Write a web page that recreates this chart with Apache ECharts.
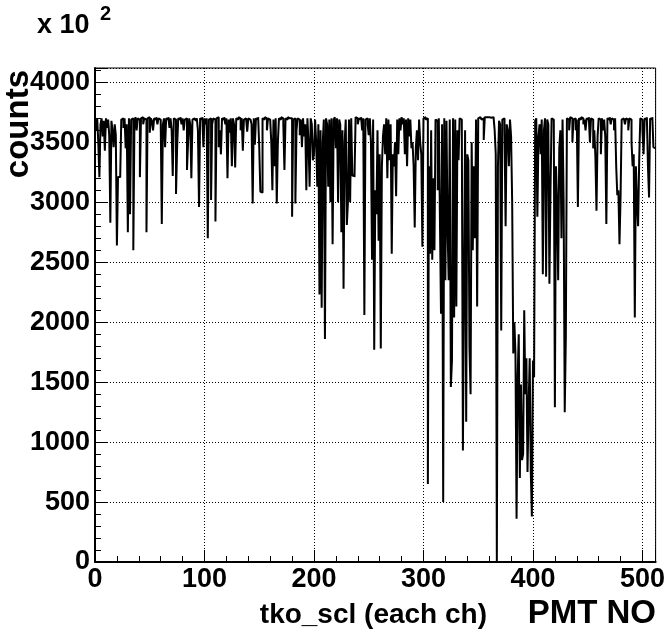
<!DOCTYPE html>
<html>
<head>
<meta charset="utf-8">
<script src="https://cdn.jsdelivr.net/npm/echarts@6/dist/echarts.min.js"></script>
<style>
  html, body { margin: 0; padding: 0; background: #fff; }
  #chart { width: 668px; height: 633px; }
</style>
</head>
<body>
<div id="chart"></div>
<script>
// bin contents of tko_scl, one value per PMT channel (0..511), in units of 10^2
const counts = [
  3650, 3600, 3700, 3500, 3210, 3650, 3700, 3550, 3680, 3430,
  3700, 3620, 3690, 3560, 2830, 3680, 3600, 3460, 3650, 3560,
  2640, 3210, 3210, 3200, 3690, 3700, 3620, 3700, 3450, 3650,
  2750, 3700, 2900, 3690, 3700, 2600, 3650, 3710, 3600, 3700,
  3690, 3210, 3700, 3710, 3650, 3700, 3690, 2750, 3700, 3710,
  3580, 3700, 3680, 3600, 3700, 3690, 3710, 3650, 3700, 3690,
  3700, 2820, 3650, 3700, 3460, 3700, 3690, 3710, 3620, 3700,
  3600, 3220, 3700, 3690, 3070, 3460, 3700, 3690, 3710, 3650,
  3700, 3600, 3690, 3700, 3270, 3500, 3700, 3650, 3200, 3690,
  3700, 3710, 3680, 3700, 3600, 2960, 3700, 3690, 3710, 3460,
  3700, 3650, 3700, 2700, 3690, 3700, 3020, 3650, 3700, 3690,
  2840, 3700, 3710, 3460, 3600, 3400, 3700, 3690, 3710, 3650,
  3700, 3200, 3690, 3580, 3700, 3300, 3700, 3650, 3290, 3700,
  3690, 3710, 3700, 3600, 3700, 3430, 3690, 3700, 3710, 3590,
  3700, 3690, 3700, 3650, 2990, 3700, 3480, 3700, 3690, 3710,
  3460, 3090, 3080, 3700, 3690, 3710, 3700, 3600, 3700, 3690,
  3700, 3500, 3100, 3690, 3300, 3700, 2990, 3500, 3700, 3690,
  3710, 3700, 3650, 3270, 3700, 3690, 3710, 3700, 3690, 3700,
  2880, 3690, 3700, 2990, 3600, 3700, 3690, 3560, 3690, 3460,
  3700, 3550, 3650, 3100, 3700, 3500, 3130, 3700, 3650, 3350,
  3400, 3690, 3500, 3130, 3650, 2230, 3600, 2120, 3500, 3690,
  1860, 3700, 3650, 3130, 3690, 3000, 3700, 2650, 3690, 3710,
  3450, 3700, 3000, 3690, 3650, 2750, 3600, 2280, 3500, 3690,
  2810, 3000, 3690, 3000, 3700, 3220, 3230, 3210, 3710, 3700,
  3650, 3700, 3690, 3710, 3600, 3700, 2060, 3690, 3700, 3650,
  3560, 3700, 3500, 2520, 3690, 1770, 3100, 2900, 3600, 2680,
  3400, 1780, 3300, 3550, 3650, 3400, 3700, 3200, 3690, 3350,
  3650, 2570, 3400, 3300, 3500, 3050, 3690, 3400, 3700, 3600,
  3710, 3650, 3700, 3400, 3690, 3300, 3700, 3550, 3690, 3450,
  3500, 3300, 2790, 3450, 3600, 3350, 3690, 3500, 3400, 2630,
  3700, 3710, 3690, 3700, 650, 3300, 2570, 3600, 2520, 3200,
  2600, 3690, 3680, 3100, 3700, 2880, 2070, 3650, 500, 3700,
  2350, 3680, 2770, 2350, 3690, 1460, 1680, 3700, 2040, 3690,
  2130, 3600, 3350, 3700, 3690, 3650, 930, 2320, 3600, 1170,
  3400, 3350, 1790, 1400, 3500, 2600, 3300, 2700, 3690, 2130,
  3700, 3710, 3700, 3690, 3700, 3520, 3710, 3710, 3710, 3710,
  3710, 3705, 3710, 3710, 3700, 3600, 3400, 0, 3300, 3680,
  3650, 1930, 3690, 3700, 3600, 2800, 3650, 3600, 3300, 3690,
  3550, 3000, 1740, 2000, 1740, 360, 1540, 1900, 700, 1480,
  850, 900, 2100, 1400, 1700, 750, 1300, 1700, 750, 380,
  1680, 1540, 3680, 3700, 2880, 3550, 3650, 3400, 3690, 2400,
  3600, 3700, 2380, 3690, 3650, 2320, 3100, 3700, 3690, 3700,
  1290, 3300, 3000, 2350, 3450, 3600, 2700, 3690, 3000, 1250,
  1880, 3700, 3690, 3600, 3710, 3700, 3500, 3690, 3700, 3600,
  3690, 2960, 3700, 3690, 3710, 3700, 3650, 3690, 3600, 3700,
  3690, 3710, 3500, 3700, 3690, 3450, 3600, 3380, 2930, 3550,
  3700, 3690, 3400, 3700, 3600, 3690, 3550, 2820, 3700, 3690,
  3710, 3650, 3700, 3690, 3600, 3700, 3300, 3060, 3100, 2650,
  3050, 3690, 3700, 3710, 3650, 3700, 3690, 3600, 3700, 3690,
  3500, 3300, 3400, 2040, 3300, 3000, 2800, 3350, 3700, 3690,
  3600, 3400, 3700, 3690, 3710, 3300, 3040, 3700, 3690, 3710,
  3460, 3450
];

const xMin = 0;
const xMax = 512;
const xStep = 100;
const yMin = 0;
const yMax = 4120;
const yStep = 500;

const font = "'Liberation Sans', Arial, Helvetica, sans-serif";

// histogram steps: each bin drawn from its low edge to the next one
const points = counts.map((v, i) => [i, v]);
points.push([counts.length, counts[counts.length - 1]]);

const chart = echarts.init(document.getElementById("chart"), null, { renderer: "canvas" });

const gridLine = { show: true, lineStyle: { color: "#000", type: [1, 2], width: 1 } };

const tickLabel = {
  show: true,
  color: "#000",
  fontSize: 27,
  fontWeight: "bold",
  fontFamily: font,
  showMaxLabel: false,
  formatter: (v) => String(v),
};

chart.setOption({
  animation: false,
  backgroundColor: "#fff",
  grid: {
    left: 95,
    right: 12,
    top: 68,
    bottom: 71,
    show: true,
    borderColor: "#000",
    borderWidth: 1,
    backgroundColor: "transparent",
  },
  xAxis: {
    type: "value",
    min: xMin,
    max: xMax,
    interval: xStep,
    axisLine: { show: true, onZero: false, lineStyle: { color: "#000", width: 2 } },
    axisTick: { show: true, inside: true, length: 12, lineStyle: { color: "#000", width: 1 } },
    minorTick: { show: true, splitNumber: 5, length: 6, lineStyle: { color: "#000", width: 1 } },
    splitLine: gridLine,
    axisLabel: { ...tickLabel, margin: 4 },
  },
  yAxis: {
    type: "value",
    min: yMin,
    max: yMax,
    interval: yStep,
    axisLine: { show: true, onZero: false, lineStyle: { color: "#000", width: 2 } },
    axisTick: { show: true, inside: true, length: 12, lineStyle: { color: "#000", width: 1 } },
    minorTick: { show: true, splitNumber: 5, length: 6, lineStyle: { color: "#000", width: 1 } },
    splitLine: gridLine,
    axisLabel: { ...tickLabel, margin: 5 },
  },
  series: [
    {
      type: "line",
      step: "end",
      data: points,
      showSymbol: false,
      symbol: "none",
      lineStyle: { color: "#000", width: 2 },
      clip: true,
    },
  ],
  graphic: [
    {
      type: "text",
      left: 37,
      top: 12,
      style: { text: "x 10", fill: "#000", font: "bold 27px " + font },
    },
    {
      type: "text",
      left: 100,
      top: 4,
      style: { text: "2", fill: "#000", font: "bold 20px " + font },
    },
    {
      type: "text",
      x: 35,
      y: 70,
      rotation: Math.PI / 2,
      style: {
        text: "counts",
        fill: "#000",
        font: "bold 33px " + font,
        align: "right",
        verticalAlign: "bottom",
      },
    },
    {
      type: "text",
      x: 487,
      y: 629,
      style: {
        text: "tko_scl (each ch)",
        fill: "#000",
        font: "bold 28px " + font,
        align: "right",
        verticalAlign: "bottom",
      },
    },
    {
      type: "text",
      x: 656,
      y: 630,
      style: {
        text: "PMT NO",
        fill: "#000",
        font: "bold 33px " + font,
        align: "right",
        verticalAlign: "bottom",
      },
    },
  ],
});
</script>
</body>
</html>
